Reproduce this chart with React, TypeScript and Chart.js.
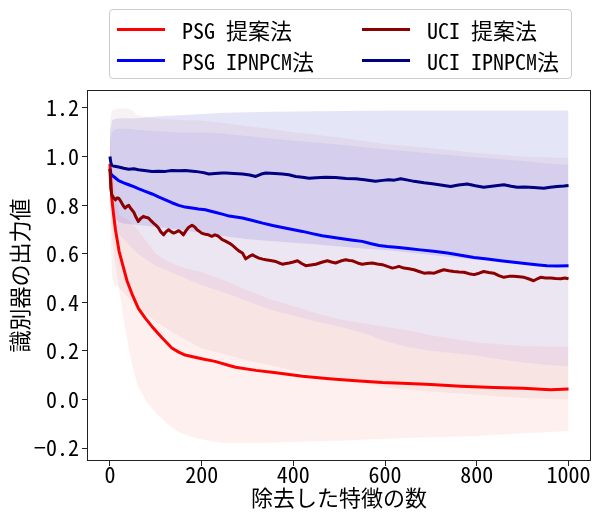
import React, { useEffect, useRef } from 'react';
import { Chart, registerables } from 'chart.js';

Chart.register(...registerables);

const FONT_FAMILY = '"Noto Sans Mono CJK JP", "DejaVu Sans Mono", "Noto Sans CJK JP", monospace';

// Axis ticks
const xTicks = [0, 200, 400, 600, 800, 1000];
const yTicks = [-0.2, 0, 0.2, 0.4, 0.6, 0.8, 1.0, 1.2];
const yTickLabels = ['−0.2', '0.0', '0.2', '0.4', '0.6', '0.8', '1.0', '1.2'];

const xTitle = '除去した特徴の数';
const yTitle = '識別器の出力値';

// Series labels
const labels = ['PSG 提案法', 'PSG IPNPCM法', 'UCI 提案法', 'UCI IPNPCM法'];

// Mean lines
const psgPropX = [0, 2, 4, 8, 12, 20, 27, 37, 48, 62, 77, 92, 113, 135, 150, 164, 200, 229, 260, 274, 318, 362, 420, 478, 536, 594, 650, 700, 765, 837, 900, 961, 1000];
const psgPropY = [0.97, 0.9, 0.83, 0.76, 0.7, 0.61, 0.56, 0.49, 0.435, 0.375, 0.335, 0.3, 0.255, 0.212, 0.195, 0.183, 0.168, 0.157, 0.14, 0.133, 0.12, 0.11, 0.096, 0.086, 0.077, 0.07, 0.066, 0.062, 0.055, 0.05, 0.046, 0.04, 0.043];

const psgIpnX = [0, 2, 5, 10, 19, 30, 41, 52, 62, 77, 92, 106, 121, 135, 150, 164, 179, 193, 208, 216, 229, 245, 260, 289, 311, 333, 355, 376, 398, 420, 441, 463, 485, 507, 530, 550, 570, 587, 605, 630, 650, 677, 706, 736, 765, 794, 823, 852, 881, 910, 935, 953, 975, 1000];
const psgIpnY = [0.95, 0.93, 0.922, 0.915, 0.901, 0.892, 0.884, 0.876, 0.868, 0.857, 0.846, 0.834, 0.822, 0.81, 0.799, 0.792, 0.788, 0.784, 0.781, 0.777, 0.771, 0.763, 0.755, 0.747, 0.737, 0.726, 0.716, 0.708, 0.7, 0.692, 0.683, 0.674, 0.668, 0.662, 0.656, 0.651, 0.641, 0.634, 0.63, 0.626, 0.622, 0.616, 0.61, 0.603, 0.594, 0.585, 0.578, 0.571, 0.565, 0.559, 0.554, 0.551, 0.55, 0.551];

const uciPropX = [0, 2, 4, 8, 12, 16, 19, 23, 26, 30, 33, 37, 41, 46, 52, 57, 62, 67, 73, 78, 84, 90, 95, 100, 106, 111, 117, 122, 128, 134, 139, 145, 150, 155, 160, 166, 171, 179, 185, 190, 195, 200, 208, 215, 222, 229, 236, 245, 252, 260, 267, 274, 281, 289, 296, 303, 311, 318, 325, 333, 340, 350, 362, 369, 376, 384, 391, 400, 409, 418, 427, 438, 449, 462, 474, 483, 492, 503, 514, 522, 529, 540, 550, 561, 572, 583, 594, 605, 616, 625, 630, 641, 652, 663, 674, 685, 696, 707, 718, 728, 739, 750, 761, 772, 783, 794, 805, 815, 826, 837, 848, 859, 870, 881, 892, 903, 914, 924, 932, 939, 950, 961, 972, 983, 992, 1000];
const uciPropY = [0.95, 0.87, 0.843, 0.83, 0.822, 0.83, 0.829, 0.818, 0.808, 0.795, 0.788, 0.795, 0.799, 0.785, 0.771, 0.75, 0.733, 0.745, 0.754, 0.75, 0.747, 0.735, 0.726, 0.718, 0.706, 0.69, 0.678, 0.69, 0.699, 0.69, 0.685, 0.69, 0.695, 0.688, 0.678, 0.695, 0.708, 0.717, 0.71, 0.699, 0.692, 0.685, 0.68, 0.678, 0.672, 0.678, 0.673, 0.658, 0.652, 0.644, 0.635, 0.623, 0.612, 0.603, 0.579, 0.588, 0.596, 0.588, 0.582, 0.578, 0.575, 0.572, 0.568, 0.562, 0.557, 0.56, 0.562, 0.566, 0.571, 0.56, 0.551, 0.554, 0.557, 0.565, 0.571, 0.566, 0.562, 0.57, 0.575, 0.572, 0.571, 0.562, 0.557, 0.56, 0.562, 0.558, 0.555, 0.548, 0.541, 0.545, 0.548, 0.541, 0.538, 0.534, 0.527, 0.52, 0.522, 0.52, 0.528, 0.534, 0.53, 0.527, 0.525, 0.524, 0.518, 0.514, 0.52, 0.527, 0.523, 0.52, 0.51, 0.503, 0.507, 0.507, 0.505, 0.503, 0.496, 0.489, 0.497, 0.503, 0.5, 0.5, 0.498, 0.497, 0.5, 0.497];

const uciIpnX = [0, 2, 4, 10, 19, 30, 41, 52, 62, 75, 92, 105, 121, 135, 150, 164, 175, 186, 200, 208, 216, 229, 245, 253, 270, 289, 305, 318, 330, 340, 360, 376, 390, 405, 420, 434, 450, 470, 492, 515, 536, 555, 579, 595, 608, 620, 634, 650, 663, 685, 707, 725, 743, 760, 779, 797, 815, 837, 859, 875, 888, 905, 924, 946, 960, 975, 990, 1000];
const uciIpnY = [1.0, 0.975, 0.964, 0.96, 0.957, 0.952, 0.948, 0.95, 0.946, 0.943, 0.939, 0.94, 0.939, 0.943, 0.942, 0.943, 0.941, 0.939, 0.935, 0.932, 0.928, 0.93, 0.932, 0.932, 0.93, 0.928, 0.924, 0.918, 0.928, 0.932, 0.93, 0.928, 0.925, 0.918, 0.915, 0.911, 0.913, 0.915, 0.914, 0.91, 0.909, 0.905, 0.898, 0.902, 0.905, 0.903, 0.909, 0.903, 0.898, 0.892, 0.887, 0.882, 0.877, 0.883, 0.887, 0.88, 0.874, 0.879, 0.884, 0.878, 0.874, 0.875, 0.873, 0.87, 0.874, 0.877, 0.879, 0.881];

// Shaded bands (lower / upper edges)
const bandX = [0, 5, 10, 20, 30, 40, 50, 60, 80, 100, 125, 150, 175, 200, 250, 300, 350, 400, 450, 500, 550, 600, 650, 700, 750, 800, 850, 900, 950, 1000];
const psgPropLow = [0.85, 0.66, 0.58, 0.45, 0.33, 0.22, 0.13, 0.06, -0.01, -0.055, -0.1, -0.135, -0.152, -0.165, -0.18, -0.18, -0.178, -0.175, -0.172, -0.17, -0.166, -0.162, -0.158, -0.155, -0.153, -0.15, -0.145, -0.14, -0.135, -0.131];
const psgPropHigh = [1.09, 0.96, 0.88, 0.76, 0.75, 0.74, 0.72, 0.7, 0.65, 0.6, 0.57, 0.55, 0.535, 0.525, 0.49, 0.45, 0.413, 0.385, 0.355, 0.33, 0.315, 0.3, 0.285, 0.265, 0.25, 0.235, 0.228, 0.22, 0.218, 0.218];
const psgIpnLow = [0.83, 0.76, 0.72, 0.68, 0.66, 0.64, 0.62, 0.6, 0.575, 0.55, 0.53, 0.51, 0.49, 0.47, 0.44, 0.405, 0.37, 0.345, 0.32, 0.3, 0.275, 0.24, 0.215, 0.2, 0.19, 0.18, 0.165, 0.152, 0.142, 0.136];
const psgIpnHigh = [1.07, 1.1, 1.11, 1.115, 1.115, 1.115, 1.113, 1.11, 1.108, 1.105, 1.103, 1.1, 1.1, 1.1, 1.094, 1.085, 1.075, 1.066, 1.058, 1.05, 1.04, 1.03, 1.022, 1.014, 1.005, 0.997, 0.99, 0.982, 0.972, 0.966];
const uciPropLow = [0.75, 0.5, 0.47, 0.46, 0.44, 0.42, 0.4, 0.38, 0.35, 0.32, 0.29, 0.26, 0.235, 0.21, 0.185, 0.16, 0.14, 0.12, 0.1, 0.09, 0.07, 0.05, 0.04, 0.032, 0.026, 0.02, 0.012, 0.006, 0.002, 0.0];
const uciPropHigh = [1.15, 1.19, 1.195, 1.198, 1.198, 1.196, 1.19, 1.17, 1.162, 1.158, 1.155, 1.152, 1.15, 1.148, 1.138, 1.125, 1.115, 1.1, 1.09, 1.08, 1.065, 1.052, 1.045, 1.035, 1.025, 1.015, 1.008, 1.0, 0.997, 0.994];
const uciIpnLow = [0.9, 0.78, 0.75, 0.73, 0.725, 0.722, 0.72, 0.718, 0.714, 0.71, 0.705, 0.7, 0.692, 0.685, 0.672, 0.66, 0.652, 0.645, 0.638, 0.63, 0.622, 0.615, 0.605, 0.595, 0.585, 0.575, 0.567, 0.56, 0.553, 0.548];
const uciIpnHigh = [1.1, 1.15, 1.155, 1.158, 1.158, 1.158, 1.158, 1.158, 1.162, 1.165, 1.168, 1.17, 1.172, 1.175, 1.18, 1.182, 1.184, 1.185, 1.187, 1.188, 1.189, 1.19, 1.19, 1.19, 1.19, 1.19, 1.19, 1.19, 1.19, 1.19];

const lineColors = ['#ff0000', '#0000ff', '#8b0000', '#000080'];
const bandColors = ['rgba(255,0,0,0.06)', 'rgba(0,0,255,0.05)', 'rgba(139,0,0,0.05)', 'rgba(0,0,190,0.1)'];

function pts(xs: number[], ys: number[]) {
  const n = Math.min(xs.length, ys.length);
  const out: { x: number; y: number }[] = [];
  for (let i = 0; i < n; i++) out.push({ x: xs[i], y: ys[i] });
  return out;
}

const framePlugin = {
  id: 'frame',
  afterDatasetsDraw(chart: any) {
    const { ctx, chartArea } = chart;
    ctx.save();
    ctx.strokeStyle = '#222';
    ctx.lineWidth = 1;
    const l = Math.round(chartArea.left) + 0.5;
    const t = Math.round(chartArea.top) + 0.5;
    const r = Math.round(chartArea.right) - 0.5;
    const b = Math.round(chartArea.bottom) - 0.5;
    ctx.strokeRect(l, t, r - l, b - t);
    ctx.restore();
  },
};

const legendItems = [
  { label: labels[0], color: lineColors[0], lineX: 117, textX: 182, y: 29 },
  { label: labels[1], color: lineColors[1], lineX: 117, textX: 182, y: 60 },
  { label: labels[2], color: lineColors[2], lineX: 362, textX: 427, y: 29 },
  { label: labels[3], color: lineColors[3], lineX: 362, textX: 427, y: 60 },
];

export default function App() {
  const canvasRef = useRef<HTMLCanvasElement | null>(null);

  useEffect(() => {
    document.body.style.margin = '0';
    const canvas = canvasRef.current;
    if (!canvas) return;

    const font = { family: FONT_FAMILY, size: 22 };

    const bandDs = (low: number[], high: number[], color: string) => [
      { data: pts(bandX, low), borderWidth: 0, borderColor: 'rgba(0,0,0,0)', pointRadius: 0, fill: false },
      { data: pts(bandX, high), borderWidth: 0, borderColor: 'rgba(0,0,0,0)', pointRadius: 0, fill: '-1', backgroundColor: color },
    ];
    const lineDs = (label: string, xs: number[], ys: number[], color: string) => ({
      label,
      data: pts(xs, ys),
      borderColor: color,
      backgroundColor: color,
      borderWidth: 3,
      pointRadius: 0,
      fill: false,
      tension: 0,
      borderJoinStyle: 'round' as const,
    });

    const chart = new Chart(canvas, {
      type: 'line',
      data: {
        datasets: [
          lineDs(labels[3], uciIpnX, uciIpnY, lineColors[3]),
          lineDs(labels[2], uciPropX, uciPropY, lineColors[2]),
          lineDs(labels[1], psgIpnX, psgIpnY, lineColors[1]),
          lineDs(labels[0], psgPropX, psgPropY, lineColors[0]),
          ...bandDs(psgPropLow, psgPropHigh, bandColors[0]),
          ...bandDs(psgIpnLow, psgIpnHigh, bandColors[1]),
          ...bandDs(uciPropLow, uciPropHigh, bandColors[2]),
          ...bandDs(uciIpnLow, uciIpnHigh, bandColors[3]),
        ] as any,
      },
      options: {
        responsive: false,
        animation: false,
        devicePixelRatio: 1,
        layout: { padding: { top: 90, right: 2, left: 0, bottom: 0 } },
        plugins: {
          legend: { display: false },
          tooltip: { enabled: false },
          filler: { drawTime: 'beforeDatasetsDraw' },
        } as any,
        scales: {
          x: {
            type: 'linear',
            min: -50,
            max: 1049,
            afterBuildTicks: (scale: any) => {
              scale.ticks = xTicks.map((v) => ({ value: v }));
            },
            afterFit: (scale: any) => {
              scale.height = 55;
            },
            grid: { display: true, drawOnChartArea: false, drawTicks: true, tickLength: 5, color: '#222', lineWidth: 1 },
            border: { display: false },
            ticks: {
              font,
              color: '#000',
              padding: -5,
              maxRotation: 0,
              autoSkip: false,
              callback: (v: any) => String(v),
            },
            title: { display: true, text: xTitle, font, color: '#000', padding: { top: 0, bottom: 5 } },
          },
          y: {
            type: 'linear',
            min: -0.253,
            max: 1.274,
            afterBuildTicks: (scale: any) => {
              scale.ticks = yTicks.map((v) => ({ value: v }));
            },
            afterFit: (scale: any) => {
              scale.width = 87;
            },
            grid: { display: true, drawOnChartArea: false, drawTicks: true, tickLength: 5, color: '#222', lineWidth: 1 },
            border: { display: false },
            ticks: {
              font,
              color: '#000',
              padding: 3,
              autoSkip: false,
              callback: (_v: any, i: number) => yTickLabels[i],
            },
            title: { display: true, text: yTitle, font, color: '#000', padding: { top: 6, bottom: 0 } },
          },
        },
      } as any,
      plugins: [framePlugin],
    });

    return () => chart.destroy();
  }, []);

  return (
    <div style={{ position: 'relative', width: 593, height: 516, background: '#fff' }}>
      <canvas ref={canvasRef} width={593} height={516} style={{ display: 'block', width: 593, height: 516 }} />
      <div
        style={{
          position: 'absolute',
          left: 109,
          top: 9,
          width: 463,
          height: 70,
          boxSizing: 'border-box',
          border: '1px solid #cccccc',
          borderRadius: 4,
          background: 'rgba(255,255,255,0.8)',
        }}
      />
      {legendItems.map((it) => (
        <React.Fragment key={it.label}>
          <div
            style={{
              position: 'absolute',
              left: it.lineX,
              top: it.y - 1.5,
              width: 48,
              height: 3,
              background: it.color,
            }}
          />
          <div
            style={{
              position: 'absolute',
              left: it.textX,
              top: it.y - 15,
              height: 30,
              lineHeight: '30px',
              fontSize: 22,
              fontFamily: FONT_FAMILY,
              color: '#000',
              whiteSpace: 'nowrap',
            }}
          >
            {it.label}
          </div>
        </React.Fragment>
      ))}
    </div>
  );
}
